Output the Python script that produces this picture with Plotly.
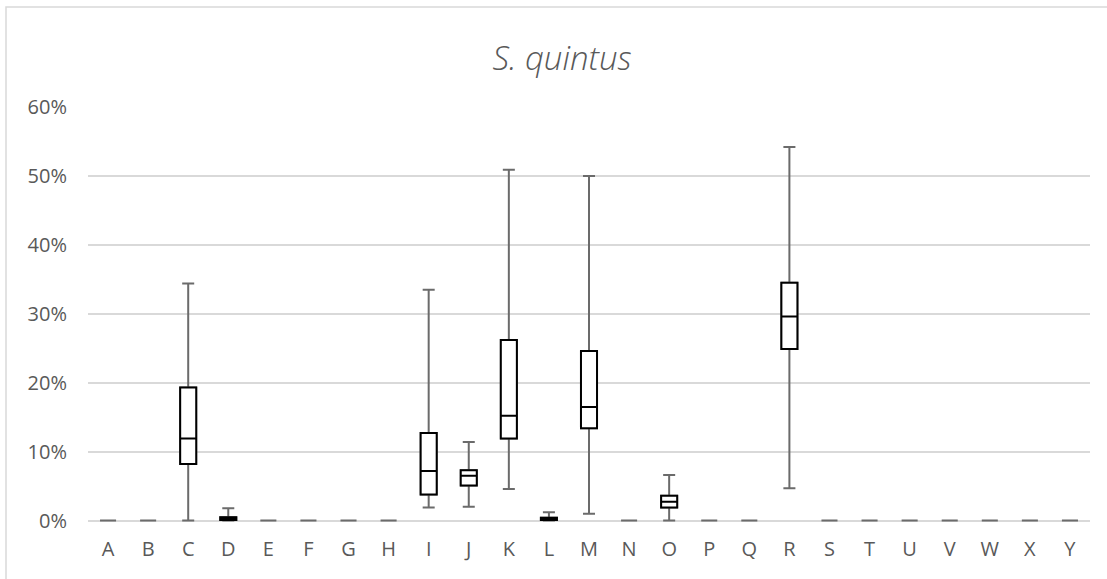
import plotly.graph_objects as go

# Categories and five-number summaries (fractions of 1)
categories = list("ABCDEFGHIJKLMNOPQRSTUVWXY")
lower = {"C": 0.000, "D": 0.000, "I": 0.019, "J": 0.020, "K": 0.046, "L": 0.000,
         "M": 0.010, "O": 0.000, "R": 0.047}
q1 = {"C": 0.082, "D": 0.001, "I": 0.038, "J": 0.051, "K": 0.119, "L": 0.001,
      "M": 0.134, "O": 0.019, "R": 0.249}
median = {"C": 0.119, "D": 0.003, "I": 0.072, "J": 0.065, "K": 0.152, "L": 0.002,
          "M": 0.165, "O": 0.0275, "R": 0.296}
q3 = {"C": 0.193, "D": 0.005, "I": 0.127, "J": 0.073, "K": 0.262, "L": 0.004,
      "M": 0.246, "O": 0.036, "R": 0.345}
upper = {"C": 0.344, "D": 0.018, "I": 0.335, "J": 0.114, "K": 0.509, "L": 0.012,
         "M": 0.500, "O": 0.066, "R": 0.542}

TEXT = "#595959"
GRID = "#d9d9d9"
FONT = "Open Sans"

W, H = 1107, 579
L, R, T, B = 88, 17, 107, 57

def stat(d, c):
    return d.get(c, 0.0)

fig = go.Figure()

# Whiskers (grey) for every category, including the all-zero ones
fig.add_trace(go.Box(
    x=categories,
    q1=[stat(q1, c) for c in categories],
    median=[stat(median, c) for c in categories],
    q3=[stat(q3, c) for c in categories],
    lowerfence=[stat(lower, c) for c in categories],
    upperfence=[stat(upper, c) for c in categories],
    boxpoints=False,
    width=0.4,
    whiskerwidth=0.75,
    fillcolor="white",
    line=dict(color="#6b6b6b", width=2),
    showlegend=False,
    hoverinfo="skip",
))

# Boxes (black) drawn on top for categories with data
boxed = [c for c in categories if c in q1]
fig.add_trace(go.Box(
    x=boxed,
    q1=[q1[c] for c in boxed],
    median=[median[c] for c in boxed],
    q3=[q3[c] for c in boxed],
    lowerfence=[q1[c] for c in boxed],
    upperfence=[q3[c] for c in boxed],
    boxpoints=False,
    width=0.4,
    whiskerwidth=0,
    fillcolor="white",
    line=dict(color="#000000", width=2),
    showlegend=False,
    hoverinfo="skip",
))

pw = W - L - R
ph = H - T - B
# Chart-area frame
fig.add_shape(type="rect", xref="paper", yref="paper",
              x0=(6 - L) / pw, x1=(W + 10 - L) / pw,
              y0=-(H + 10 - T - ph) / ph, y1=1 + (T - 7) / ph,
              line=dict(color=GRID, width=1.5), fillcolor="rgba(0,0,0,0)",
              layer="below")

fig.update_layout(
    width=W, height=H,
    margin=dict(l=L, r=R, t=T, b=B),
    paper_bgcolor="white",
    plot_bgcolor="white",
    boxmode="overlay",
    title=dict(text="<i>S. quintus</i>", x=562 / W, xanchor="center",
               y=1 - 58 / H, yanchor="middle", xref="container", yref="container",
               font=dict(family=FONT, size=33, color=TEXT, weight=300)),
    font=dict(family=FONT, color=TEXT),
    xaxis=dict(
        type="category",
        categoryorder="array",
        categoryarray=categories,
        range=[-0.5, len(categories) - 0.5],
        showgrid=False,
        zeroline=False,
        showline=False,
        ticks="",
        ticklabelstandoff=13,
        tickfont=dict(family=FONT, size=20, color=TEXT),
    ),
    yaxis=dict(
        range=[-0.002, 0.6],
        tickvals=[0, 0.1, 0.2, 0.3, 0.4, 0.5, 0.6],
        tickformat=".0%",
        showgrid=True,
        gridcolor=GRID,
        gridwidth=1.5,
        zeroline=True,
        zerolinecolor=GRID,
        zerolinewidth=1.5,
        showline=False,
        ticks="",
        ticklabelstandoff=20,
        tickfont=dict(family=FONT, size=20, color=TEXT),
    ),
)

fig.write_html("out.html")
